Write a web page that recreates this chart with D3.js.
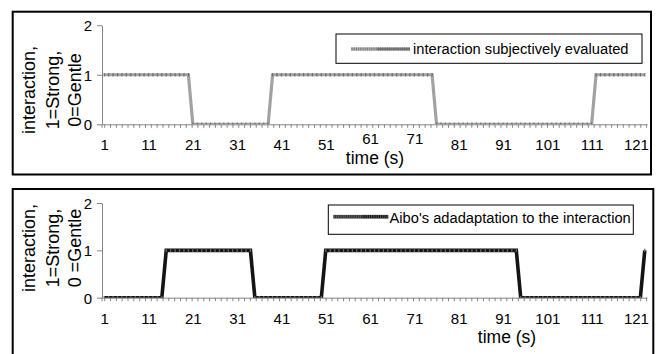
<!DOCTYPE html>
<html><head><meta charset="utf-8">
<script src="https://cdn.jsdelivr.net/npm/d3@7"></script>
<style>
body{margin:0;background:#fff}
svg{display:block}
text{font-family:"Liberation Sans",Arial,sans-serif;fill:#000}
</style>
</head><body>
<svg id="chart" width="659" height="354"></svg>
<script>
// ---------- data ----------
const timeCategories = d3.range(1, 124);           // time (s): 1 .. 123
const xTickLabels = [1, 11, 21, 31, 41, 51, 61, 71, 81, 91, 101, 111, 121];
const yTickValues = [0, 1, 2];
const subjectiveInteraction = [
  1,1,1,1,1,1,1,1,1,1,
  1,1,1,1,1,1,1,1,1,1,
  0,0,0,0,0,0,0,0,0,0,
  0,0,0,0,0,0,0,0,1,1,
  1,1,1,1,1,1,1,1,1,1,
  1,1,1,1,1,1,1,1,1,1,
  1,1,1,1,1,1,1,1,1,1,
  1,1,1,1,1,0,0,0,0,0,
  0,0,0,0,0,0,0,0,0,0,
  0,0,0,0,0,0,0,0,0,0,
  0,0,0,0,0,0,0,0,0,0,
  0,1,1,1,1,1,1,1,1,1,
  1,1,1
];
const aiboAdaptation = [
  0,0,0,0,0,0,0,0,0,0,
  0,0,0,0,1,1,1,1,1,1,
  1,1,1,1,1,1,1,1,1,1,
  1,1,1,1,0,0,0,0,0,0,
  0,0,0,0,0,0,0,0,0,0,
  1,1,1,1,1,1,1,1,1,1,
  1,1,1,1,1,1,1,1,1,1,
  1,1,1,1,1,1,1,1,1,1,
  1,1,1,1,1,1,1,1,1,1,
  1,1,1,1,0,0,0,0,0,0,
  0,0,0,0,0,0,0,0,0,0,
  0,0,0,0,0,0,0,0,0,0,
  0,0,1
];
const legendLabels = ["interaction subjectively evaluated", "Aibo's adadaptation to the interaction"];
const yTitleTop = ["interaction,", "1=Strong,", "0=Gentle"];
const yTitleBottom = ["interaction,", "1=Strong,", "0 =Gentle"];
const xTitle = "time (s)";

// ---------- layout ----------
const panels = [
  {
    values: subjectiveInteraction, label: legendLabels[0], yTitle: yTitleTop,
    frame: {x: 12.7, y: 11.7, w: 638.3, h: 162.8},
    yRange: [124.3, 25.2], titleCY: 90,
    xTitlePos: [375, 163.5], labelOffset: 26.2, raised: [61, 71],
    legendBox: {x: 336, y: 34, w: 306, h: 29.3},
    sample: {x1: 351, xm: 377, x2: 410, y: 49}, legendText: [413, 54],
    line: "#a2a2a2", marker: "#6c6c6c", lineW: 3.2,
    sampleLight: "#b0b0b0", sampleDark: "#7a7a7a"
  },
  {
    values: aiboAdaptation, label: legendLabels[1], yTitle: yTitleBottom,
    frame: {x: 12.7, y: 189, w: 640.6, h: 175},
    yRange: [297.7, 203], titleCY: 248,
    xTitlePos: [507, 342.5], labelOffset: 26.3, raised: [],
    legendBox: {x: 328.3, y: 205, w: 305, h: 29.3},
    sample: {x1: 333.3, xm: 362, x2: 388.3, y: 216.7}, legendText: [389.5, 222.5],
    line: "#141414", marker: "#6a6a6a", lineW: 3.6,
    sampleLight: "#333", sampleDark: "#111"
  }
];

const svg = d3.select("#chart");
const x = d3.scaleLinear().domain([0.5, 123.5]).range([102, 647]);
const minorStep = 1.315;
const minorTicks = d3.range(1, 123.5, minorStep);
const axisColor = "#858585";
const font = '"Liberation Sans", Arial, sans-serif';
const tickFont = 15;

panels.forEach((p, i) => {
  const g = svg.append("g");
  const y = d3.scaleLinear().domain([0, 2]).range(p.yRange);

  // frame
  g.append("rect").attr("x", p.frame.x).attr("y", p.frame.y)
    .attr("width", p.frame.w).attr("height", p.frame.h)
    .attr("fill", "none").attr("stroke", "#000").attr("stroke-width", 2);

  // x axis minor ticks
  const xa = g.append("g").attr("transform", `translate(0,${y(0)})`)
    .call(d3.axisBottom(x).tickValues(minorTicks).tickSize(3.5).tickSizeOuter(0).tickFormat(""));
  xa.select(".domain").attr("stroke", axisColor);
  xa.selectAll(".tick line").attr("stroke", axisColor);

  // x labels
  const xl = g.append("g").attr("transform", `translate(0,${y(0)})`)
    .call(d3.axisBottom(x).tickValues(xTickLabels).tickSize(0));
  xl.select(".domain").remove();
  xl.attr("font-family", font).attr("font-size", tickFont);
  xl.selectAll("text")
    .attr("y", d => p.raised.includes(d) ? p.labelOffset - 6 : p.labelOffset)
    .attr("dy", 0).attr("fill", "#000");

  // y axis
  const ya = g.append("g").attr("transform", `translate(${x(0.5)},0)`)
    .call(d3.axisLeft(y).tickValues(yTickValues).tickSize(5).tickSizeOuter(0).tickPadding(5).tickFormat(d3.format("d")));
  ya.attr("font-family", font).attr("font-size", tickFont);
  ya.select(".domain").attr("stroke", axisColor);
  ya.selectAll(".tick line").attr("stroke", axisColor);
  ya.selectAll("text").attr("fill", "#000").attr("dy", "0.36em");
  g.append("line").attr("x1", x(0.5)).attr("x2", x(0.5))
    .attr("y1", y(0)).attr("y2", y(0) + 3.5).attr("stroke", axisColor);

  // y title
  const cols = [34.7, 58.7, 81.4];
  p.yTitle.forEach((t, k) => {
    g.append("text").attr("transform", `translate(${cols[k]},${p.titleCY}) rotate(-90)`)
      .attr("text-anchor", "middle").attr("font-size", 18).text(t);
  });

  // x title
  g.append("text").attr("x", p.xTitlePos[0]).attr("y", p.xTitlePos[1])
    .attr("text-anchor", "middle").attr("font-size", 17.5).text(xTitle);

  // clip
  const cid = "clip" + i;
  svg.append("clipPath").attr("id", cid).append("rect")
    .attr("x", x(0.5)).attr("y", y(2) - 10).attr("width", x(123.5) - x(0.5)).attr("height", y(0) - y(2) + 10);

  const data = timeCategories.map((t, k) => ({t, v: p.values[k]}));
  const pg = g.append("g").attr("clip-path", `url(#${cid})`);
  pg.append("path").datum(data)
    .attr("d", d3.line().x(d => x(d.t)).y(d => y(d.v)))
    .attr("fill", "none").attr("stroke", p.line).attr("stroke-width", p.lineW)
    .attr("stroke-linejoin", "miter").attr("stroke-miterlimit", 10);
  pg.selectAll("rect.m").data(data).enter().append("rect").attr("class", "m")
    .attr("x", d => x(d.t) - 0.6).attr("width", 1.2)
    .attr("y", d => y(d.v) - 1.7).attr("height", 3.4)
    .attr("fill", p.marker);

  // legend
  const lb = p.legendBox;
  g.append("rect").attr("x", lb.x).attr("y", lb.y).attr("width", lb.w).attr("height", lb.h)
    .attr("fill", "#fff").attr("stroke", "#000").attr("stroke-width", 1);
  const s = p.sample;
  g.append("line").attr("x1", s.x1).attr("x2", s.xm).attr("y1", s.y).attr("y2", s.y)
    .attr("stroke", p.sampleLight).attr("stroke-width", p.lineW);
  g.append("line").attr("x1", s.xm).attr("x2", s.x2).attr("y1", s.y).attr("y2", s.y)
    .attr("stroke", p.sampleDark).attr("stroke-width", p.lineW);
  g.selectAll("rect.lm").data(d3.range(s.x1 + 1, s.x2, 2.2)).enter().append("rect").attr("class", "lm")
    .attr("x", d => d - 0.5).attr("width", 1).attr("y", s.y - 1.7).attr("height", 3.4)
    .attr("fill", p.marker).attr("opacity", 0.8);
  g.append("text").attr("x", p.legendText[0]).attr("y", p.legendText[1])
    .attr("font-size", 14.7).text(p.label);
});
</script>
</body></html>
